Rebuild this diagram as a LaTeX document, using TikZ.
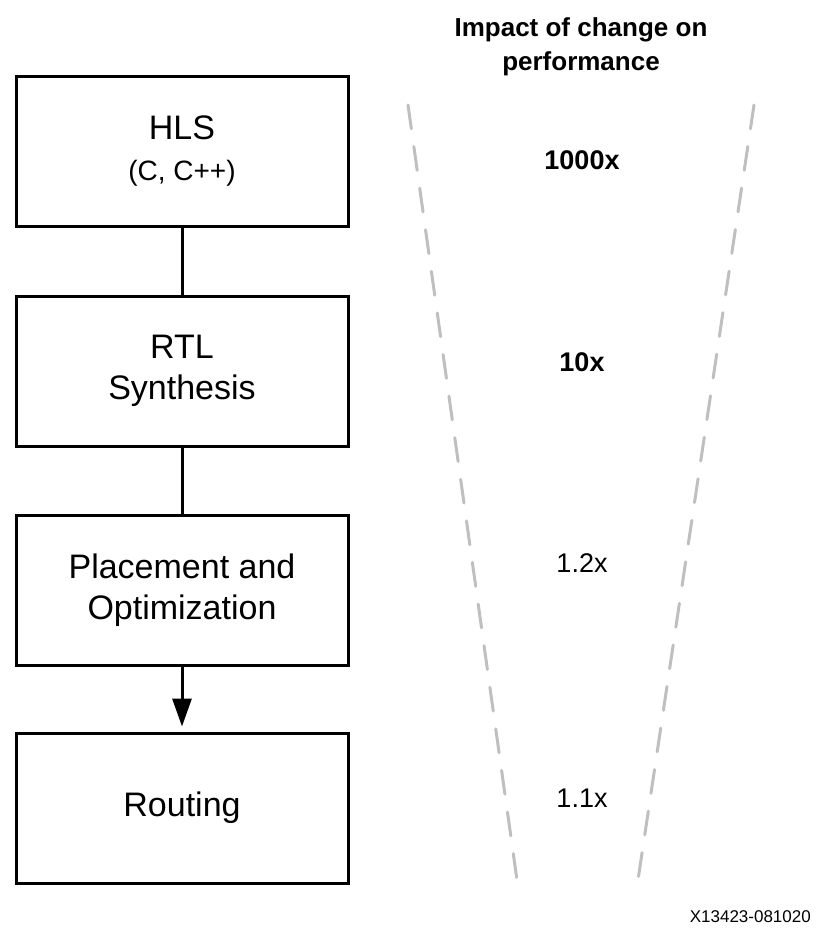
\documentclass[tikz,border=0pt]{standalone}
\usepackage{fontspec}
\setmainfont{Liberation Sans}
\usetikzlibrary{positioning,arrows.meta}

\begin{document}
\begin{tikzpicture}[x=1pt,y=-1pt]
% Fix the canvas to the size of the figure
\useasboundingbox (0,0) rectangle (817,932);

\tikzset{
% Boxes for the design flow, labels and edges for the funnel
flow box/.style={rectangle,draw,line width=3pt,minimum width=332pt,minimum height=150pt,align=center,font=\fontsize{34}{41}\selectfont},
flow line/.style={draw,line width=3pt},
impact label/.style={font=\fontsize{27}{33}\selectfont},
strong label/.style={font=\fontsize{27}{33}\selectfont\bfseries},
funnel edge/.style={draw=black!25,line width=3pt,line cap=round,dash pattern=on 24pt off 18pt}
}

% The Flow
\node(hls)[flow box] at (182,151){HLS\\{\fontsize{28}{33}\selectfont (C, C++)}};
\node(rtl)[flow box,below=67pt of hls]{RTL\\Synthesis};
\node(place)[flow box,below=66pt of rtl]{Placement and\\Optimization};
\node(route)[flow box,below=65pt of place]{Routing};

\draw[flow line] (hls) -- (rtl);
\draw[flow line] (rtl) -- (place);
\draw[flow line,-{Triangle[length=28pt,width=19pt]},shorten >=5pt] (place) -- (route);

% The Funnel
\coordinate(left top) at (408,105);
\coordinate(left bottom) at (517,880);
\coordinate(right top) at (754,105);
\coordinate(right bottom) at (638,880);
\draw[funnel edge] (left top) -- (left bottom);
\draw[funnel edge] (right top) -- (right bottom);

\node(title)[align=center,font=\fontsize{26}{34}\selectfont\bfseries] at (581,47){Impact of change on\\performance};
\node(hls gain)[strong label] at (582,160){1000x};
\node(rtl gain)[strong label] at (582,362){10x};
\node(place gain)[impact label] at (582,563){1.2x};
\node(route gain)[impact label] at (582,798){1.1x};

\node(code)[anchor=base east,inner sep=0pt,font=\fontsize{17}{20}\selectfont] at (811,922){X13423-081020};

\end{tikzpicture}
\end{document}
